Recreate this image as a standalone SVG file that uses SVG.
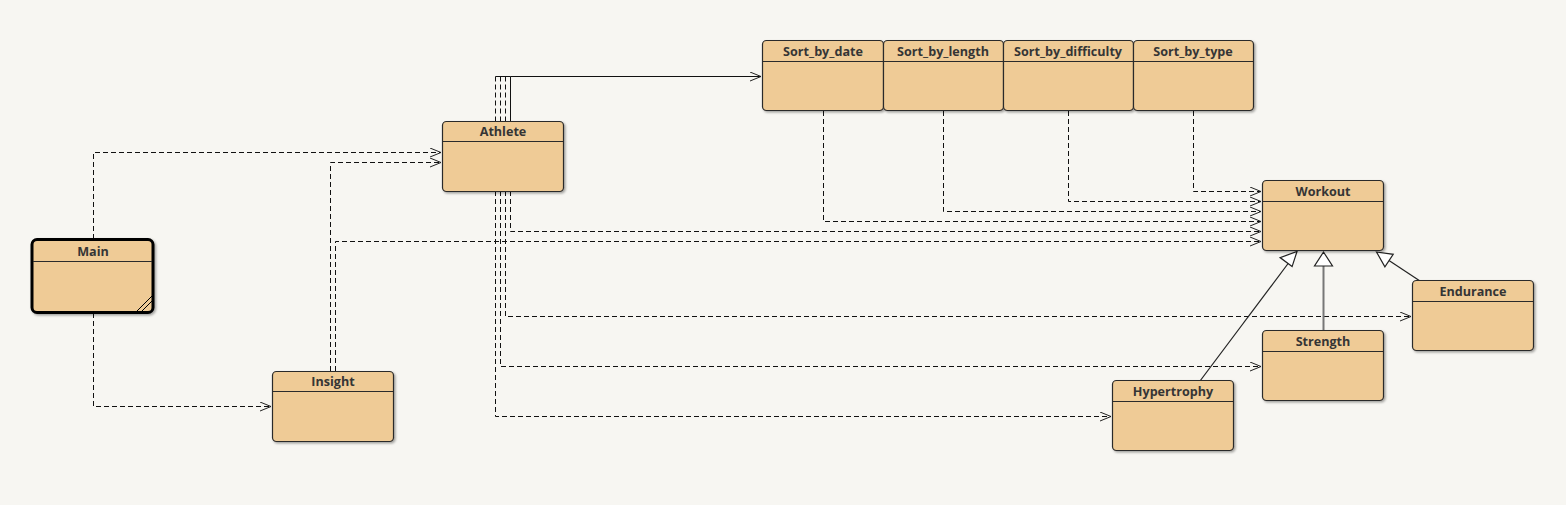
<svg xmlns="http://www.w3.org/2000/svg" width="1566" height="505" viewBox="0 0 1566 505">
<style>
.bg{fill:#f7f6f2}
.box{fill:#efcb96;stroke:#2b2b2b;stroke-width:1.2}
.hdr{stroke:#2b2b2b;stroke-width:1.2}
.t{font-family:"Open Sans","Noto Sans",sans-serif;font-size:12.6px;font-weight:bold;fill:#353535;text-anchor:middle}
.dep{fill:none;stroke:#111;stroke-width:1;stroke-dasharray:5,3}
.sol{fill:none;stroke:#111;stroke-width:1}
.gen{fill:none;stroke:#222;stroke-width:1.2}
.tri{fill:#fff;stroke:#222;stroke-width:1.2}
</style>
<defs>
<filter id="sh" x="-10%" y="-10%" width="130%" height="130%">
<feDropShadow dx="1.5" dy="1.5" stdDeviation="1.2" flood-color="#000" flood-opacity="0.35"/>
</filter>
<marker id="open" markerUnits="userSpaceOnUse" markerWidth="14" markerHeight="12" refX="11" refY="5" orient="auto">
<path d="M0,0.5 L11,5 L0,9.5" fill="none" stroke="#222" stroke-width="1"/>
</marker>
</defs>
<rect class="bg" x="0" y="0" width="1566" height="505"/>
<g id="connectors">
<path class="dep" d="M93.5,239 V152.5 H441" marker-end="url(#open)"/>
<path class="dep" d="M93.5,313 V406.5 H271" marker-end="url(#open)"/>
<path class="dep" d="M330.5,371 V162.5 H441" marker-end="url(#open)"/>
<path class="dep" d="M335.5,371 V241.5 H1261" marker-end="url(#open)"/>
<path class="sol" d="M510.5,121 V76.5 H761" marker-end="url(#open)"/>
<path class="sol" d="M495.5,76.5 H510.5"/>
<path class="dep" d="M495.5,76.5 V121"/>
<path class="dep" d="M500.5,76.5 V121"/>
<path class="dep" d="M505.5,76.5 V121"/>
<path class="dep" d="M510.5,191 V231.5 H1261" marker-end="url(#open)"/>
<path class="dep" d="M505.5,191 V316.5 H1411" marker-end="url(#open)"/>
<path class="dep" d="M500.5,191 V366.5 H1261" marker-end="url(#open)"/>
<path class="dep" d="M495.5,191 V416.5 H1111" marker-end="url(#open)"/>
<path class="dep" d="M823.5,111 V221.5 H1261" marker-end="url(#open)"/>
<path class="dep" d="M943.5,111 V211.5 H1261" marker-end="url(#open)"/>
<path class="dep" d="M1068.5,111 V201.5 H1261" marker-end="url(#open)"/>
<path class="dep" d="M1193.5,111 V191.5 H1261" marker-end="url(#open)"/>
<path class="gen" d="M1200,381 L1288.5,263"/>
<polygon class="tri" points="1297,251.5 1292.1,266.6 1280.1,257.6"/>
<path d="M1323.5,331 V266" fill="none" stroke="#777" stroke-width="2"/>
<polygon class="tri" points="1323.5,252 1332.5,266 1314.5,266"/>
<path class="gen" d="M1420,281 L1389,260.5"/>
<polygon class="tri" points="1376.5,252 1393.2,254.3 1384.9,266.8"/>
</g>
<g id="Main">
<rect x="32" y="239.5" width="121" height="73" rx="5" fill="#efcb96" stroke="#000" stroke-width="3" filter="url(#sh)"/>
<line x1="33" y1="261.5" x2="152" y2="261.5" class="hdr"/>
<text class="t" x="93" y="256">Main</text>
<line x1="137" y1="311" x2="152" y2="296" stroke="#000" stroke-width="1"/>
<line x1="142" y1="311" x2="152" y2="301" stroke="#000" stroke-width="1"/>
</g>
<g id="Athlete">
<rect class="box" x="442.5" y="121.5" width="121" height="70" rx="4" filter="url(#sh)"/>
<line x1="442.5" y1="141.5" x2="563.5" y2="141.5" class="hdr"/>
<text class="t" x="503" y="136">Athlete</text>
</g>
<g id="Insight">
<rect class="box" x="272.5" y="371.5" width="121" height="70" rx="4" filter="url(#sh)"/>
<line x1="272.5" y1="391.5" x2="393.5" y2="391.5" class="hdr"/>
<text class="t" x="333" y="386">Insight</text>
</g>
<g id="Sort_by_date">
<rect class="box" x="762.5" y="40.5" width="121" height="70" rx="4" filter="url(#sh)"/>
<line x1="762.5" y1="61.5" x2="883.5" y2="61.5" class="hdr"/>
<text class="t" x="823" y="56">Sort_by_date</text>
</g>
<g id="Sort_by_length">
<rect class="box" x="883.5" y="40.5" width="120" height="70" rx="4" filter="url(#sh)"/>
<line x1="883.5" y1="61.5" x2="1003.5" y2="61.5" class="hdr"/>
<text class="t" x="943" y="56">Sort_by_length</text>
</g>
<g id="Sort_by_difficulty">
<rect class="box" x="1003.5" y="40.5" width="130" height="70" rx="4" filter="url(#sh)"/>
<line x1="1003.5" y1="61.5" x2="1133.5" y2="61.5" class="hdr"/>
<text class="t" x="1068" y="56">Sort_by_difficulty</text>
</g>
<g id="Sort_by_type">
<rect class="box" x="1133.5" y="40.5" width="120" height="70" rx="4" filter="url(#sh)"/>
<line x1="1133.5" y1="61.5" x2="1253.5" y2="61.5" class="hdr"/>
<text class="t" x="1193" y="56">Sort_by_type</text>
</g>
<g id="Workout">
<rect class="box" x="1262.5" y="180.5" width="121" height="70" rx="4" filter="url(#sh)"/>
<line x1="1262.5" y1="201.5" x2="1383.5" y2="201.5" class="hdr"/>
<text class="t" x="1323" y="196">Workout</text>
</g>
<g id="Endurance">
<rect class="box" x="1412.5" y="280.5" width="121" height="70" rx="4" filter="url(#sh)"/>
<line x1="1412.5" y1="301.5" x2="1533.5" y2="301.5" class="hdr"/>
<text class="t" x="1473" y="296">Endurance</text>
</g>
<g id="Strength">
<rect class="box" x="1262.5" y="330.5" width="121" height="70" rx="4" filter="url(#sh)"/>
<line x1="1262.5" y1="351.5" x2="1383.5" y2="351.5" class="hdr"/>
<text class="t" x="1323" y="346">Strength</text>
</g>
<g id="Hypertrophy">
<rect class="box" x="1112.5" y="380.5" width="121" height="70" rx="4" filter="url(#sh)"/>
<line x1="1112.5" y1="401.5" x2="1233.5" y2="401.5" class="hdr"/>
<text class="t" x="1173" y="396">Hypertrophy</text>
</g>
</svg>
